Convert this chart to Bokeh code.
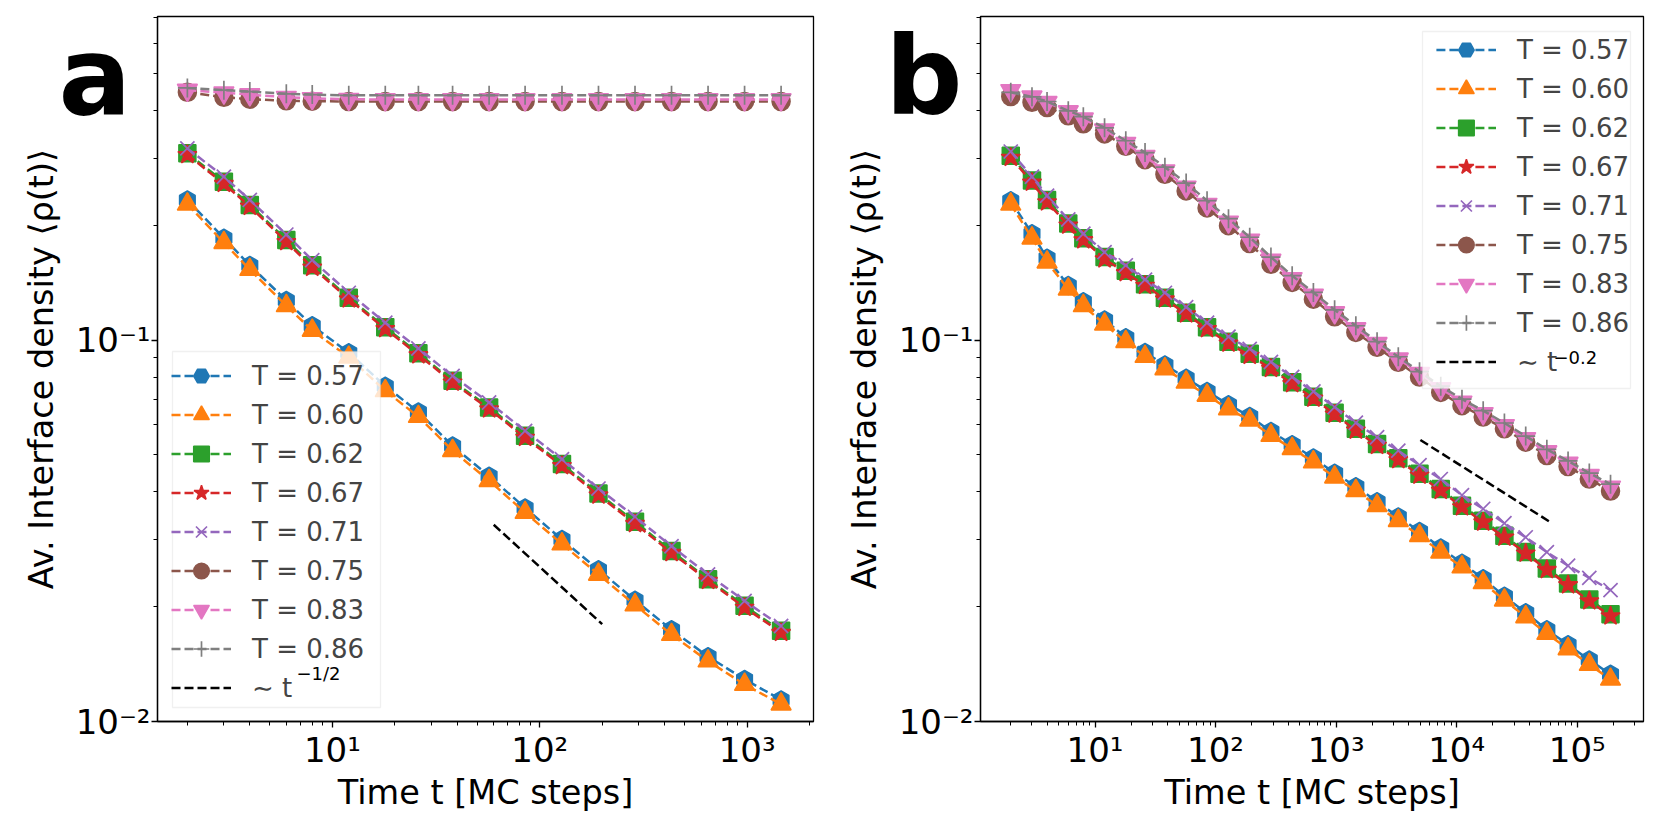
import numpy as np
from bokeh.plotting import figure
from bokeh.models import (Range1d, FixedTicker, CustomJSTickFormatter, Label,
                          Legend, LegendItem, LogAxis, BoxAnnotation)
from bokeh.layouts import row
from bokeh.embed import file_html
from bokeh.resources import INLINE

# ---------------- data ----------------
temps = ["0.57", "0.60", "0.62", "0.67", "0.71", "0.75", "0.83", "0.86"]
colors = ["#1f77b4", "#ff7f0e", "#2ca02c", "#d62728", "#9467bd", "#8c564b", "#e377c2", "#7f7f7f"]

# panel a
t_a = [2, 3, 4, 6, 8, 12, 18, 26, 38, 57, 85, 128, 192, 288, 432, 648, 972, 1458]
a_057 = [0.233, 0.185, 0.157, 0.127, 0.109, 0.0927, 0.0757, 0.0648, 0.0528, 0.0440, 0.0363, 0.0300, 0.0250, 0.0208, 0.0174, 0.0148, 0.0129, 0.0114]
a_060 = [0.227, 0.180, 0.153, 0.123, 0.106, 0.0901, 0.0736, 0.0630, 0.0513, 0.0428, 0.0353, 0.0292, 0.0243, 0.0202, 0.0169, 0.0144, 0.0125, 0.0111]
a_062 = [0.309, 0.260, 0.226, 0.183, 0.157, 0.129, 0.108, 0.0923, 0.0782, 0.0666, 0.0561, 0.0473, 0.0396, 0.0334, 0.0280, 0.0236, 0.0201, 0.0173]
a_067 = [0.306, 0.257, 0.224, 0.181, 0.155, 0.128, 0.107, 0.0914, 0.0775, 0.0659, 0.0555, 0.0468, 0.0392, 0.0330, 0.0277, 0.0234, 0.0199, 0.0171]
a_071 = [0.318, 0.268, 0.233, 0.189, 0.162, 0.133, 0.111, 0.0950, 0.0805, 0.0686, 0.0578, 0.0487, 0.0408, 0.0344, 0.0288, 0.0243, 0.0207, 0.0178]
a_075 = [0.446, 0.433, 0.428, 0.424, 0.423, 0.422, 0.422, 0.422, 0.422, 0.422, 0.422, 0.422, 0.422, 0.422, 0.422, 0.422, 0.422, 0.422]
a_083 = [0.452, 0.445, 0.440, 0.433, 0.430, 0.428, 0.427, 0.427, 0.427, 0.427, 0.427, 0.427, 0.427, 0.427, 0.427, 0.427, 0.427, 0.427]
a_086 = [0.458, 0.452, 0.448, 0.442, 0.440, 0.438, 0.438, 0.438, 0.438, 0.438, 0.438, 0.438, 0.438, 0.438, 0.438, 0.438, 0.438, 0.438]
ref_a_t = [60, 200]
ref_a_y = [0.0328, 0.0180]

# panel b
t_b = [2, 3, 4, 6, 8, 12, 18, 26, 38, 57, 85, 128, 192, 288, 432, 648, 972, 1458,
       2187, 3280, 4920, 7380, 11070, 16600, 24900, 37400, 56000, 84000, 126000, 189000]
b_057 = [0.232, 0.190, 0.164, 0.139, 0.126, 0.113, 0.1015, 0.0928, 0.0861, 0.0794, 0.0734, 0.0677, 0.0631, 0.0576, 0.0532,
         0.0491, 0.0448, 0.0413, 0.0377, 0.0344, 0.0315, 0.0285, 0.0260, 0.0237, 0.0213, 0.0193, 0.0174, 0.0159, 0.0145, 0.0133]
b_060 = [0.227, 0.185, 0.160, 0.136, 0.123, 0.110, 0.0990, 0.0905, 0.0840, 0.0775, 0.0716, 0.0660, 0.0616, 0.0562, 0.0519,
         0.0479, 0.0437, 0.0403, 0.0368, 0.0336, 0.0307, 0.0278, 0.0254, 0.0231, 0.0208, 0.0188, 0.0170, 0.0155, 0.0141, 0.0129]
b_062 = [0.304, 0.262, 0.233, 0.202, 0.185, 0.165, 0.152, 0.140, 0.129, 0.118, 0.108, 0.0990, 0.0920, 0.0850, 0.0775,
         0.0710, 0.0645, 0.0585, 0.0534, 0.0490, 0.0446, 0.0407, 0.0368, 0.0336, 0.0307, 0.0278, 0.0252, 0.0230, 0.0209, 0.0191]
b_067 = [0.301, 0.259, 0.230, 0.200, 0.183, 0.163, 0.150, 0.139, 0.128, 0.117, 0.107, 0.0981, 0.0911, 0.0842, 0.0768,
         0.0703, 0.0639, 0.0580, 0.0529, 0.0485, 0.0442, 0.0403, 0.0365, 0.0333, 0.0304, 0.0276, 0.0250, 0.0228, 0.0207, 0.0189]
b_071 = [0.312, 0.268, 0.239, 0.207, 0.190, 0.170, 0.157, 0.144, 0.133, 0.122, 0.111, 0.102, 0.0948, 0.0876, 0.0800,
         0.0733, 0.0667, 0.0607, 0.0556, 0.0513, 0.0470, 0.0432, 0.0392, 0.0361, 0.0331, 0.0304, 0.0278, 0.0256, 0.0238, 0.0221]
b_075 = [0.435, 0.420, 0.407, 0.387, 0.369, 0.347, 0.322, 0.297, 0.272, 0.246, 0.222, 0.1995, 0.179, 0.158, 0.1416,
         0.128, 0.1151, 0.1047, 0.0957, 0.0874, 0.0800, 0.0729, 0.0673, 0.0628, 0.0585, 0.0540, 0.0498, 0.0466, 0.0432, 0.0402]
b_083 = [0.451, 0.434, 0.420, 0.397, 0.380, 0.356, 0.328, 0.303, 0.278, 0.252, 0.227, 0.204, 0.183, 0.162, 0.1450,
         0.1312, 0.1180, 0.1072, 0.0980, 0.0893, 0.0818, 0.0746, 0.0688, 0.0642, 0.0597, 0.0552, 0.0510, 0.0476, 0.0442, 0.0412]
b_086 = [0.446, 0.434, 0.422, 0.399, 0.385, 0.360, 0.333, 0.310, 0.284, 0.258, 0.232, 0.208, 0.186, 0.165, 0.1475,
         0.1333, 0.1200, 0.1090, 0.0990, 0.0904, 0.0826, 0.0757, 0.0700, 0.0653, 0.0606, 0.0560, 0.0517, 0.0482, 0.0448, 0.0419]
ref_b_t = [5000, 60000]
ref_b_y = [0.0547, 0.0333]

y_major = [0.01, 0.1]
y_minor = [0.02, 0.03, 0.04, 0.05, 0.06, 0.07, 0.08, 0.09, 0.2, 0.3, 0.4, 0.5, 0.6, 0.7]
xa_major = [10, 100, 1000]
xa_minor = [2, 3, 4, 5, 6, 7, 8, 9, 20, 30, 40, 50, 60, 70, 80, 90,
            200, 300, 400, 500, 600, 700, 800, 900, 2000]
xb_major = [10, 100, 1000, 10000, 100000]
xb_minor = [m * d for d in [1, 10, 100, 1000, 10000, 100000] for m in range(2, 10)]

# ---------------- styling ----------------
FONT = "DejaVu Sans"
markers = [("hex", 18, 1.5, np.pi / 2), ("triangle", 20, 1.5, 0.0), ("square", 17, 1.5, 0.0),
           ("star", 20, 1.5, 0.0), ("x", 20, 1.7, 0.0), ("circle", 18, 1.5, 0.0),
           ("inverted_triangle", 20, 1.5, 0.0), ("cross", 19, 1.7, 0.0)]

TICK_CODE = r"""
const e = Math.round(Math.log10(tick));
const m = {"-": "\u207b", "0": "\u2070", "1": "\u00b9", "2": "\u00b2", "3": "\u00b3",
           "4": "\u2074", "5": "\u2075", "6": "\u2076", "7": "\u2077", "8": "\u2078", "9": "\u2079"};
let s = "";
for (const c of String(e)) { s += m[c]; }
return "10" + s;
"""


def make_panel(t, series, x_lo, x_hi, x_major, x_minor, ref_t, ref_y, ref_exp,
               legend_loc, box, exp_x, exp_y, letter, letter_standoff, b_left, frame_w, b_right):
    p = figure(width=b_left + frame_w + b_right, height=820,
               x_axis_type="log", y_axis_type="log",
               x_range=Range1d(x_lo, x_hi), y_range=Range1d(0.01, 0.705),
               output_backend="svg", toolbar_location=None,
               min_border_left=b_left, min_border_right=b_right,
               min_border_top=16, min_border_bottom=99)
    p.grid.visible = False
    p.outline_line_color = "black"
    p.outline_line_width = 1.3
    p.background_fill_color = "white"
    p.border_fill_color = "white"

    p.xaxis.ticker = FixedTicker(ticks=x_major, minor_ticks=x_minor)
    p.yaxis.ticker = FixedTicker(ticks=y_major, minor_ticks=y_minor)
    p.xaxis.axis_label = "Time t [MC steps]"
    p.yaxis.axis_label = "Av. Interface density \u27e8\u03c1(t)\u27e9"
    for ax in (p.xaxis[0], p.yaxis[0]):
        ax.formatter = CustomJSTickFormatter(code=TICK_CODE)
        ax.major_label_text_font = FONT
        ax.major_label_text_font_size = "34px"
        ax.major_label_text_color = "black"
        ax.axis_label_text_font = FONT
        ax.axis_label_text_font_size = "33.5px"
        ax.axis_label_text_font_style = "normal"
        ax.axis_label_text_color = "black"
        ax.axis_line_color = "black"
        ax.axis_line_width = 1.3
        ax.major_tick_in = 0
        ax.major_tick_out = 6
        ax.minor_tick_in = 0
        ax.minor_tick_out = 4
        ax.major_tick_line_color = "black"
        ax.minor_tick_line_color = "black"
        ax.major_tick_line_width = 1.3
        ax.minor_tick_line_width = 1
    p.xaxis.major_label_standoff = 2
    p.yaxis.major_label_standoff = 1
    p.xaxis.axis_label_standoff = 0
    p.yaxis.axis_label_standoff = 12

    # panel letter, drawn as the single tick label of an outer, line-less axis
    letter_axis = LogAxis(ticker=FixedTicker(ticks=[0.492], minor_ticks=[]),
                          formatter=CustomJSTickFormatter(code="return '%s';" % letter),
                          axis_line_color=None, major_tick_line_color=None,
                          minor_tick_line_color=None, major_tick_in=0, major_tick_out=0,
                          minor_tick_in=0, minor_tick_out=0,
                          major_label_standoff=letter_standoff,
                          major_label_text_font=FONT, major_label_text_font_style="bold",
                          major_label_text_font_size="108px", major_label_text_color="black")
    p.add_layout(letter_axis, "left")

    items = []
    for (temp, col, ys, (mk, sz, lw, ang)) in zip(temps, colors, series, markers):
        rl = p.line(t, ys, line_color=col, line_width=2.5, line_dash="9 4")
        rs = p.scatter(t, ys, marker=mk, size=sz, angle=ang, fill_color=col,
                       line_color=col, line_width=lw)
        items.append(LegendItem(label="T = " + temp, renderers=[rl, rs]))
    rr = p.line(ref_t, ref_y, line_color="black", line_width=2.5, line_dash="9 4")
    items.append(LegendItem(label="\u223c t", renderers=[rr]))

    bl, br, bb, bt = box
    p.add_layout(BoxAnnotation(left=bl, right=br, bottom=bb, top=bt,
                               left_units="screen", right_units="screen",
                               bottom_units="screen", top_units="screen",
                               fill_color="white", fill_alpha=0.8,
                               line_color="#cccccc", line_width=1.3))
    leg = Legend(items=items, location=legend_loc, margin=14, padding=5, spacing=0,
                 glyph_height=39, label_height=39, glyph_width=60, label_standoff=21,
                 label_text_font=FONT, label_text_font_size="26px",
                 border_line_color=None, background_fill_alpha=0.0)
    p.add_layout(leg)
    p.add_layout(Label(x=exp_x, y=exp_y, x_units="screen", y_units="screen", text=ref_exp,
                       text_font=FONT, text_font_size="18px", text_baseline="alphabetic",
                       text_color="black", level="overlay"))
    return p


pa = make_panel(t_a, [a_057, a_060, a_062, a_067, a_071, a_075, a_083, a_086],
                10 ** 0.157, 10 ** 3.32, xa_major, xa_minor, ref_a_t, ref_a_y, "\u22121/2",
                "bottom_left", (15, 223, 14, 370), 139, 48.5, "a", -113, 157, 656, 7)
pb = make_panel(t_b, [b_057, b_060, b_062, b_067, b_071, b_075, b_083, b_086],
                10 ** 0.05, 10 ** 5.55, xb_major, xb_minor, ref_b_t, ref_b_y, "\u22120.2",
                "top_right", (442, 650, 333, 690), 573, 364.5, "b", -121, 160, 663, 10)

layout = row(pa, pb)
open("out.html", "w").write(file_html(layout, INLINE))
